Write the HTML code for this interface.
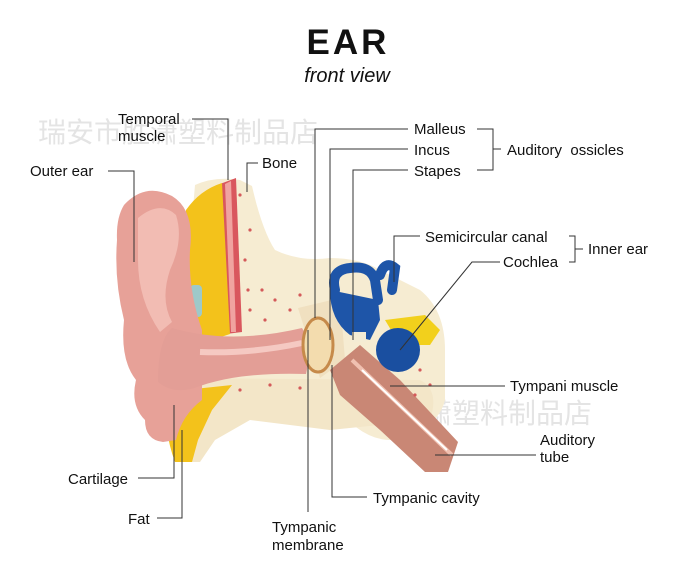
<!DOCTYPE html>
<html><head><meta charset="utf-8"><style>
html,body{margin:0;padding:0;background:#fff;}
svg{display:block;}
text{font-family:"Liberation Sans","Noto Sans CJK SC",sans-serif;fill:#111;}
</style></head><body>
<svg width="682" height="562" viewBox="0 0 682 562" xmlns="http://www.w3.org/2000/svg">
<text x="38" y="142" font-size="28" style="fill:#e4e4e4">瑞安市胜潇塑料制品店</text>
<text x="312" y="423" font-size="28" style="fill:#e4e4e4">瑞安市胜潇塑料制品店</text>
<text x="348" y="54" font-size="35" font-weight="bold" text-anchor="middle" letter-spacing="3">EAR</text>
<text x="347" y="82" font-size="20" font-style="italic" text-anchor="middle">front view</text>

<path d="M195,185 Q215,176 240,180 L252,186 Q262,230 275,250 Q300,262 330,258 Q360,258 380,270 L420,290 Q445,310 445,350 L445,400 Q440,420 420,430 L390,440 Q360,440 330,400 L300,380 L200,380 Q185,380 180,360 Z" fill="#f6ecd2"/>
<path d="M185,378 L420,380 Q440,390 430,420 L330,430 L250,420 L215,440 L200,462 L180,462 Z" fill="#f3e6c8"/>
<path d="M220,184 L236,178 L242,332 L226,334 Z" fill="#d9575e"/>
<path d="M225,184 L231,181 L236,332 L231,332 Z" fill="#f0a3a0"/>
<path d="M186,210 Q200,190 222,183 L230,334 L188,348 Q178,300 182,250 Z" fill="#f3c21b"/>
<rect x="190" y="285" width="12" height="32" rx="4" fill="#9ec9c9"/>
<rect x="192" y="342" width="24" height="9" rx="4" fill="#9ec9c9"/>
<path d="M166,392 L232,385 L212,410 L198,440 L192,462 L175,462 Q163,430 166,392 Z" fill="#f3c21b"/>
<rect x="170" y="400" width="16" height="8" rx="4" fill="#9ec9c9"/>
<path d="M124,205 Q145,182 172,196 Q195,210 190,250 Q188,290 202,330 L202,400 Q182,415 176,440 L163,442 Q145,440 145,420 Q130,405 136,380 Q120,360 124,320 Q114,280 117,240 Q116,218 124,205 Z" fill="#e7a198"/>
<path d="M138,218 Q160,200 176,215 Q184,240 170,270 Q160,300 172,322 L160,332 Q138,300 138,260 Z" fill="#f2bcb3"/>
<path d="M172,328 Q230,345 302,328 L312,345 L306,374 Q240,372 200,386 Q175,396 158,382 Q158,340 172,328 Z" fill="#e39e96"/>
<path d="M200,352 Q250,354 302,343" stroke="#f5c9c2" stroke-width="6" fill="none"/>
<path d="M298,308 L340,298 L345,360 L320,378 Z" fill="#f0e0c0"/>
<ellipse cx="318" cy="345" rx="15" ry="27" fill="#f3dcae" stroke="#c68a4a" stroke-width="3"/>
<path d="M330,370 L360,345 L400,380 L458,442 L448,472 L425,472 L380,430 L340,395 Z" fill="#c98775"/>
<path d="M352,360 L452,455" stroke="#f0c0b0" stroke-width="4"/>
<path d="M362,370 L447,450" stroke="#fff" stroke-width="2"/>
<path d="M385,320 L425,315 L440,330 L430,345 L400,345 Z" fill="#f2d01c"/>
<path d="M335,290 Q330,270 350,268 Q370,265 375,280 L378,300 M380,275 Q385,260 395,268 L392,290" stroke="#1e55a8" stroke-width="10" fill="none" stroke-linecap="round"/>
<path d="M330,290 Q330,320 350,335 L370,340 L380,320 L378,300 Z" fill="#1e55a8"/>
<circle cx="398" cy="350" r="22" fill="#1a4fa0"/>
<rect x="352" y="332" width="14" height="10" fill="#f4ecd4"/>
<g fill="#d45a5a">
<circle cx="250" cy="230" r="1.6"/><circle cx="245" cy="260" r="1.6"/><circle cx="262" cy="290" r="1.6"/><circle cx="250" cy="310" r="1.6"/><circle cx="275" cy="300" r="1.6"/><circle cx="290" cy="310" r="1.6"/><circle cx="265" cy="320" r="1.6"/><circle cx="240" cy="195" r="1.6"/><circle cx="248" cy="290" r="1.6"/><circle cx="300" cy="295" r="1.6"/><circle cx="240" cy="390" r="1.6"/><circle cx="270" cy="385" r="1.6"/><circle cx="300" cy="388" r="1.6"/><circle cx="420" cy="370" r="1.6"/><circle cx="430" cy="385" r="1.6"/><circle cx="415" cy="395" r="1.6"/>
</g>

<g stroke="#333" stroke-width="1" fill="none">
<polyline points="192,119 228,119 228,180"/>
<polyline points="258,163 247,163 247,192"/>
<polyline points="108,171 134,171 134,262"/>
<polyline points="408,129 315,129 315,318"/>
<polyline points="408,149 330,149 330,340"/>
<polyline points="408,170 353,170 353,340"/>
<polyline points="477,129 493,129 493,170 477,170"/>
<line x1="493" y1="149" x2="501" y2="149"/>
<polyline points="420,236 394,236 394,282"/>
<polyline points="500,262 472,262 400,350"/>
<polyline points="569,236 575,236 575,262 569,262"/>
<line x1="575" y1="249" x2="583" y2="249"/>
<line x1="505" y1="386" x2="390" y2="386"/>
<line x1="536" y1="455" x2="435" y2="455"/>
<polyline points="367,497 332,497 332,365"/>
<line x1="308" y1="512" x2="308" y2="330"/>
<polyline points="138,478 174,478 174,405"/>
<polyline points="157,518 182,518 182,430"/>
</g>

<g font-size="15">
<text x="118" y="124">Temporal</text>
<text x="118" y="141">muscle</text>
<text x="262" y="168">Bone</text>
<text x="30" y="176">Outer ear</text>
<text x="414" y="134">Malleus</text>
<text x="414" y="155">Incus</text>
<text x="414" y="176">Stapes</text>
<text x="507" y="155">Auditory&#160; ossicles</text>
<text x="425" y="242">Semicircular canal</text>
<text x="503" y="267">Cochlea</text>
<text x="588" y="254">Inner ear</text>
<text x="510" y="391">Tympani muscle</text>
<text x="540" y="445">Auditory</text>
<text x="540" y="462">tube</text>
<text x="373" y="503">Tympanic cavity</text>
<text x="272" y="532">Tympanic</text>
<text x="272" y="550">membrane</text>
<text x="68" y="484">Cartilage</text>
<text x="128" y="524">Fat</text>
</g>
</svg>
</body></html>
